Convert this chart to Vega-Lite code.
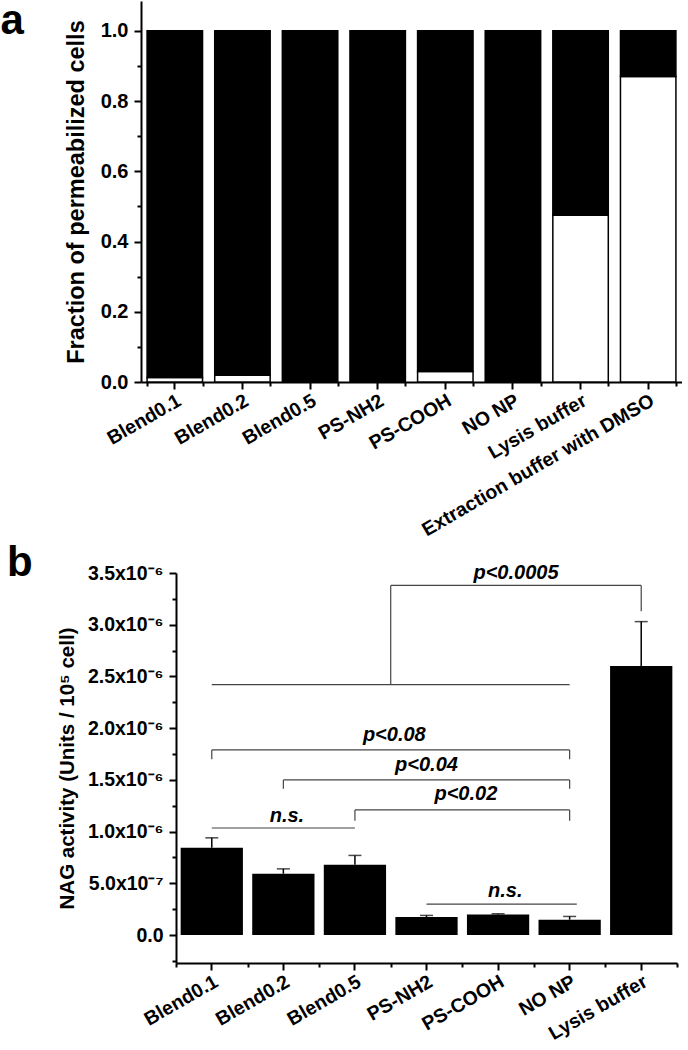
{
  "$schema": "https://vega.github.io/schema/vega-lite/v6.json",
  "background": "white",
  "padding": 0,
  "config": {
    "font": "Liberation Sans",
    "view": {"stroke": null},
    "axis": {
      "grid": false,
      "domainColor": "black",
      "domainWidth": 2,
      "tickColor": "black",
      "tickWidth": 2,
      "labelFont": "Liberation Sans",
      "labelFontWeight": "bold",
      "labelColor": "black",
      "labelFontSize": 19.5,
      "labelOverlap": false,
      "labelFlush": false,
      "labelLimit": 0,
      "titleFont": "Liberation Sans",
      "titleFontWeight": "bold",
      "titleColor": "black"
    },
    "title": {"font": "Liberation Sans", "fontWeight": "bold", "color": "black"}
  },
  "datasets": {
    "permeabilization": [
      {"sample": "Blend0.1", "permeabilized": 0.013, "non_permeabilized": 0.987},
      {"sample": "Blend0.2", "permeabilized": 0.019, "non_permeabilized": 0.981},
      {"sample": "Blend0.5", "permeabilized": 0.0, "non_permeabilized": 1.0},
      {"sample": "PS-NH2", "permeabilized": 0.0, "non_permeabilized": 1.0},
      {"sample": "PS-COOH", "permeabilized": 0.03, "non_permeabilized": 0.97},
      {"sample": "NO NP", "permeabilized": 0.0, "non_permeabilized": 1.0},
      {"sample": "Lysis buffer", "permeabilized": 0.475, "non_permeabilized": 0.525},
      {"sample": "Extraction buffer with DMSO", "permeabilized": 0.87, "non_permeabilized": 0.13}
    ],
    "nag": [
      {"sample": "Blend0.1", "mean": 8.45e-7, "upper": 9.4e-7},
      {"sample": "Blend0.2", "mean": 5.93e-7, "upper": 6.4e-7},
      {"sample": "Blend0.5", "mean": 6.8e-7, "upper": 7.7e-7},
      {"sample": "PS-NH2", "mean": 1.74e-7, "upper": 1.9e-7},
      {"sample": "PS-COOH", "mean": 2.0e-7, "upper": 2.06e-7},
      {"sample": "NO NP", "mean": 1.48e-7, "upper": 1.8e-7},
      {"sample": "Lysis buffer", "mean": 2.6e-6, "upper": 3.03e-6}
    ],
    "brackets": [
      {"x1": 0.5, "x2": 5.5, "y1": 2.42e-6, "y2": 2.42e-6},
      {"x1": 3.0, "x2": 3.0, "y1": 2.42e-6, "y2": 3.38e-6},
      {"x1": 3.0, "x2": 6.5, "y1": 3.38e-6, "y2": 3.38e-6},
      {"x1": 6.5, "x2": 6.5, "y1": 3.38e-6, "y2": 3.13e-6},
      {"x1": 0.5, "x2": 5.5, "y1": 1.79e-6, "y2": 1.79e-6},
      {"x1": 0.5, "x2": 0.5, "y1": 1.79e-6, "y2": 1.70e-6},
      {"x1": 5.5, "x2": 5.5, "y1": 1.79e-6, "y2": 1.70e-6},
      {"x1": 1.5, "x2": 5.5, "y1": 1.50e-6, "y2": 1.50e-6},
      {"x1": 1.5, "x2": 1.5, "y1": 1.50e-6, "y2": 1.415e-6},
      {"x1": 5.5, "x2": 5.5, "y1": 1.50e-6, "y2": 1.415e-6},
      {"x1": 2.5, "x2": 5.5, "y1": 1.21e-6, "y2": 1.21e-6},
      {"x1": 2.5, "x2": 2.5, "y1": 1.21e-6, "y2": 1.105e-6},
      {"x1": 5.5, "x2": 5.5, "y1": 1.21e-6, "y2": 1.105e-6},
      {"x1": 0.5, "x2": 2.5, "y1": 1.035e-6, "y2": 1.035e-6},
      {"x1": 3.5, "x2": 5.6, "y1": 3.0e-7, "y2": 3.0e-7}
    ],
    "pvalues": [
      {"label": "p<0.0005", "x": 4.75, "y": 3.5e-6},
      {"label": "p<0.08", "x": 3.05, "y": 1.93e-6},
      {"label": "p<0.04", "x": 3.5, "y": 1.64e-6},
      {"label": "p<0.02", "x": 4.05, "y": 1.36e-6},
      {"label": "n.s.", "x": 1.55, "y": 1.15e-6},
      {"label": "n.s.", "x": 4.6, "y": 4.3e-7}
    ]
  },
  "vconcat": [
    {
      "width": 541,
      "height": 381,
      "title": {"text": "a", "orient": "left", "anchor": "end", "frame": "group", "angle": 0, "align": "right", "baseline": "top", "offset": 17, "fontSize": 42},
      "data": {"name": "permeabilization"},
      "layer": [
        {
          "transform": [{"fold": ["permeabilized", "non_permeabilized"], "as": ["state", "fraction"]}],
          "mark": {"type": "bar", "stroke": "black", "strokeWidth": 1.5},
          "encoding": {
            "x": {
              "field": "sample", "type": "nominal", "sort": null,
              "scale": {"paddingInner": 0.18, "paddingOuter": 0.09},
              "axis": {"orient": "bottom", "title": null, "labelAngle": -30, "labelAlign": "right", "labelBaseline": "top", "tickSize": 7, "labelPadding": 2}
            },
            "y": {
              "field": "fraction", "type": "quantitative", "stack": "zero",
              "scale": {"domain": [0, 1.085], "nice": false},
              "axis": {
                "values": [0, 0.1, 0.2, 0.3, 0.4, 0.5, 0.6, 0.7, 0.8, 0.9, 1.0],
                "labelExpr": "round(datum.value*10)%2==0 ? format(datum.value,'.1f') : ''",
                "tickSize": {"condition": {"test": "round(datum.value*10)%2==0", "value": 7}, "value": 4},
                "labelPadding": 6,
                "labelFontSize": 20,
                "title": "Fraction of permeabilized cells",
                "titleFontSize": 23.5,
                "titlePadding": 12
              }
            },
            "color": {"field": "state", "type": "nominal", "scale": {"domain": ["permeabilized", "non_permeabilized"], "range": ["white", "black"]}, "legend": null},
            "order": {"field": "state", "sort": "descending"}
          }
        },
        {
          "mark": {"type": "point", "opacity": 0},
          "encoding": {
            "x": {
              "field": "sample", "type": "nominal", "sort": null,
              "axis": {"orient": "bottom", "title": null, "labels": false, "domain": false, "tickBand": "extent", "tickSize": 4}
            }
          }
        }
      ],
      "resolve": {"axis": {"x": "independent"}}
    },
    {
      "width": 536,
      "height": 390,
      "title": {"text": "b", "orient": "left", "anchor": "end", "frame": "group", "angle": 0, "align": "right", "baseline": "top", "dy": -30, "offset": -1, "fontSize": 42},
      "layer": [
        {
          "data": {"name": "nag"},
          "layer": [
            {
              "mark": {"type": "bar", "color": "black"},
              "encoding": {
                "x": {
                  "field": "sample", "type": "nominal", "sort": null, "title": null,
                  "scale": {"paddingInner": 0.13, "paddingOuter": 0.065, "range": [35, 536]},
                  "axis": {"orient": "bottom", "labelAngle": -30, "labelAlign": "right", "labelBaseline": "top", "tickSize": 7, "labelPadding": 2}
                },
                "y": {
                  "field": "mean", "type": "quantitative",
                  "scale": {"domain": [-2.7e-7, 3.5e-6], "nice": false, "zero": false},
                  "axis": {
                    "orient": "left",
                    "offset": -35,
                    "title": "NAG activity (Units / 10⁵ cell)",
                    "values": [-2.5e-7, 0, 2.5e-7, 5e-7, 7.5e-7, 1e-6, 1.25e-6, 1.5e-6, 1.75e-6, 2e-6, 2.25e-6, 2.5e-6, 2.75e-6, 3e-6, 3.25e-6, 3.5e-6],
                    "labelExpr": "round(datum.value*4e6)%2!=0 ? '' : (abs(datum.value)<1e-12 ? '0.0' : (datum.value<9e-7 ? format(datum.value*1e7,'.1f')+'x10⁻⁷' : format(datum.value*1e6,'.1f')+'x10⁻⁶'))",
                    "tickSize": {"condition": {"test": "round(datum.value*4e6)%2==0", "value": 7}, "value": 4},
                    "labelPadding": 6,
                    "titleFontSize": 20.5,
                    "titlePadding": 10
                  }
                }
              }
            },
            {
              "mark": {"type": "rule", "color": "black", "strokeWidth": 1.5},
              "encoding": {
                "x": {"field": "sample", "type": "nominal", "sort": null, "title": null},
                "y": {"field": "mean", "type": "quantitative", "axis": null},
                "y2": {"field": "upper"}
              }
            },
            {
              "mark": {"type": "tick", "color": "black", "thickness": 1.5, "size": 13},
              "encoding": {
                "x": {"field": "sample", "type": "nominal", "sort": null, "title": null},
                "y": {"field": "upper", "type": "quantitative", "axis": null}
              }
            }
          ],
          "resolve": {"axis": {"y": "independent"}}
        },
        {
          "layer": [
            {
              "data": {"name": "brackets"},
              "mark": {"type": "rule", "color": "#444444", "strokeWidth": 1.2},
              "encoding": {
                "x": {
                  "field": "x1", "type": "quantitative", "title": null,
                  "scale": {"domain": [0, 7], "nice": false, "zero": false, "range": [35, 536]},
                  "axis": {"orient": "bottom", "values": [0, 1, 2, 3, 4, 5, 6, 7], "labels": false, "domain": false, "tickSize": 4}
                },
                "x2": {"field": "x2"},
                "y": {"field": "y1", "type": "quantitative", "axis": null},
                "y2": {"field": "y2"}
              }
            },
            {
              "data": {"name": "pvalues"},
              "mark": {"type": "text", "font": "Liberation Sans", "fontStyle": "italic", "fontWeight": "bold", "fontSize": 20, "baseline": "middle", "align": "center", "color": "black"},
              "encoding": {
                "x": {"field": "x", "type": "quantitative", "axis": null},
                "y": {"field": "y", "type": "quantitative", "axis": null},
                "text": {"field": "label"}
              }
            }
          ],
          "resolve": {"axis": {"x": "independent", "y": "independent"}}
        }
      ],
      "resolve": {"scale": {"x": "independent"}, "axis": {"x": "independent", "y": "independent"}}
    }
  ],
  "spacing": 2
}
